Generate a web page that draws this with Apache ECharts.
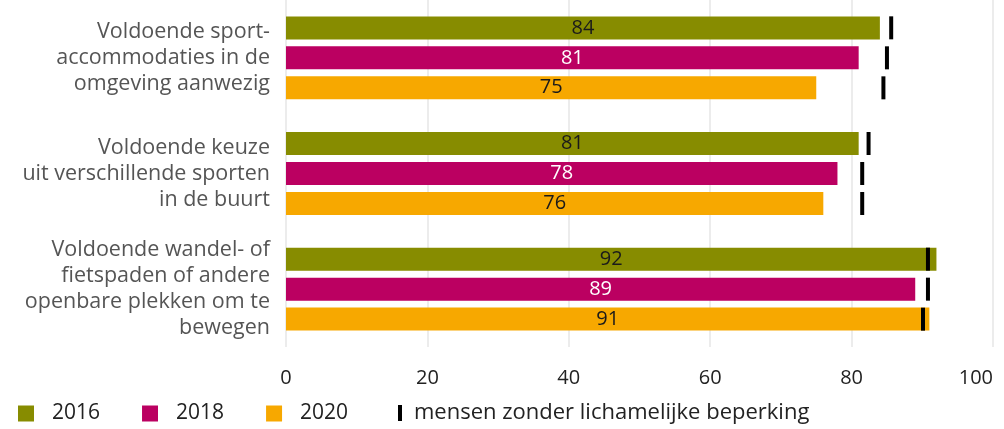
<!DOCTYPE html>
<html><head><meta charset="utf-8">
<script src="https://cdn.jsdelivr.net/npm/echarts@6/dist/echarts.min.js"></script>
<style>html,body{margin:0;padding:0;background:#fff;overflow:hidden}#c{width:1004px;height:429px}</style>
</head><body><div id="c"></div>
<script>
const categories = [
  'Voldoende sport-\naccommodaties in de\nomgeving aanwezig',
  'Voldoende keuze\nuit verschillende sporten\nin de buurt',
  'Voldoende wandel- of\nfietspaden of andere\nopenbare plekken om te\nbewegen'
];
const years = ['2016', '2018', '2020'];
const values2016 = [84, 81, 92];
const values2018 = [81, 78, 89];
const values2020 = [75, 76, 91];
// mensen zonder lichamelijke beperking (per year, per category)
const ref2016 = [85.6, 82.4, 90.8];
const ref2018 = [85.0, 81.5, 90.8];
const ref2020 = [84.5, 81.5, 90.1];
const xTicks = [0, 20, 40, 60, 80, 100];
const refName = 'mensen zonder lichamelijke beperking';

const colors = ['#878c00', '#bb0061', '#f7a800'];
const labelColors = ['#1a1a1a', '#ffffff', '#1a1a1a'];
const font = 'Open Sans';
const barW = 23, step = 30;

const seriesVals = [values2016, values2018, values2020];
const refVals = [ref2016, ref2018, ref2020];

const series = years.map((y, i) => ({
  name: y, type: 'bar', data: seriesVals[i], barWidth: barW, barGap: '30%',
  itemStyle: {color: colors[i]},
  label: {show: true, position: 'inside', color: labelColors[i], fontSize: 20, fontFamily: font},
  z: 2
}));

const refData = [];
refVals.forEach((arr, si) => arr.forEach((v, ci) => refData.push([v, ci, si])));
series.push({
  name: refName, type: 'custom', z: 5,
  data: refData,
  encode: {x: 0, y: 1},
  renderItem: function (params, api) {
    const c = api.coord([api.value(0), api.value(1)]);
    const si = api.value(2);
    const cy = c[1] + (si - 1) * step;
    return {type: 'rect', shape: {x: c[0] - 2, y: cy - barW / 2, width: 4, height: barW}, style: {fill: '#000'}};
  }
});

const chart = echarts.init(document.getElementById('c'), null, {renderer: 'canvas', width: 1004, height: 429});
chart.setOption({
  animation: false,
  textStyle: {fontFamily: font},
  grid: {left: 286, right: 11, top: 0, bottom: 82, containLabel: false, outerBoundsMode: 'none'},
  xAxis: {
    type: 'value', min: 0, max: 100, interval: 20,
    axisLine: {show: false}, axisTick: {show: false},
    splitLine: {show: true, lineStyle: {color: '#ececec', width: 2}},
    axisLabel: {fontSize: 20, color: '#222', margin: 21, fontFamily: font, alignMaxLabel: 'right',
      formatter: v => xTicks.includes(v) ? String(v) : ''}
  },
  yAxis: {
    type: 'category', data: categories, inverse: true,
    axisLine: {show: false}, axisTick: {show: false},
    axisLabel: {fontSize: 21.5, color: '#555', lineHeight: 26, margin: 16, align: 'right', fontFamily: font}
  },
  legend: [{
    data: years, left: 13, bottom: 0, itemWidth: 16, itemHeight: 16, itemGap: 42, icon: 'rect',
    textStyle: {fontSize: 21, color: '#222', fontFamily: font, padding: [0, 0, 0, 13]}
  }, {
    data: [{name: refName, icon: 'rect', itemStyle: {color: '#000'}}], left: 393, bottom: 0, itemWidth: 4, itemHeight: 16,
    textStyle: {fontSize: 22, color: '#222', fontFamily: font, padding: [0, 0, 0, 7]}
  }],
  series: series
});
</script></body></html>
